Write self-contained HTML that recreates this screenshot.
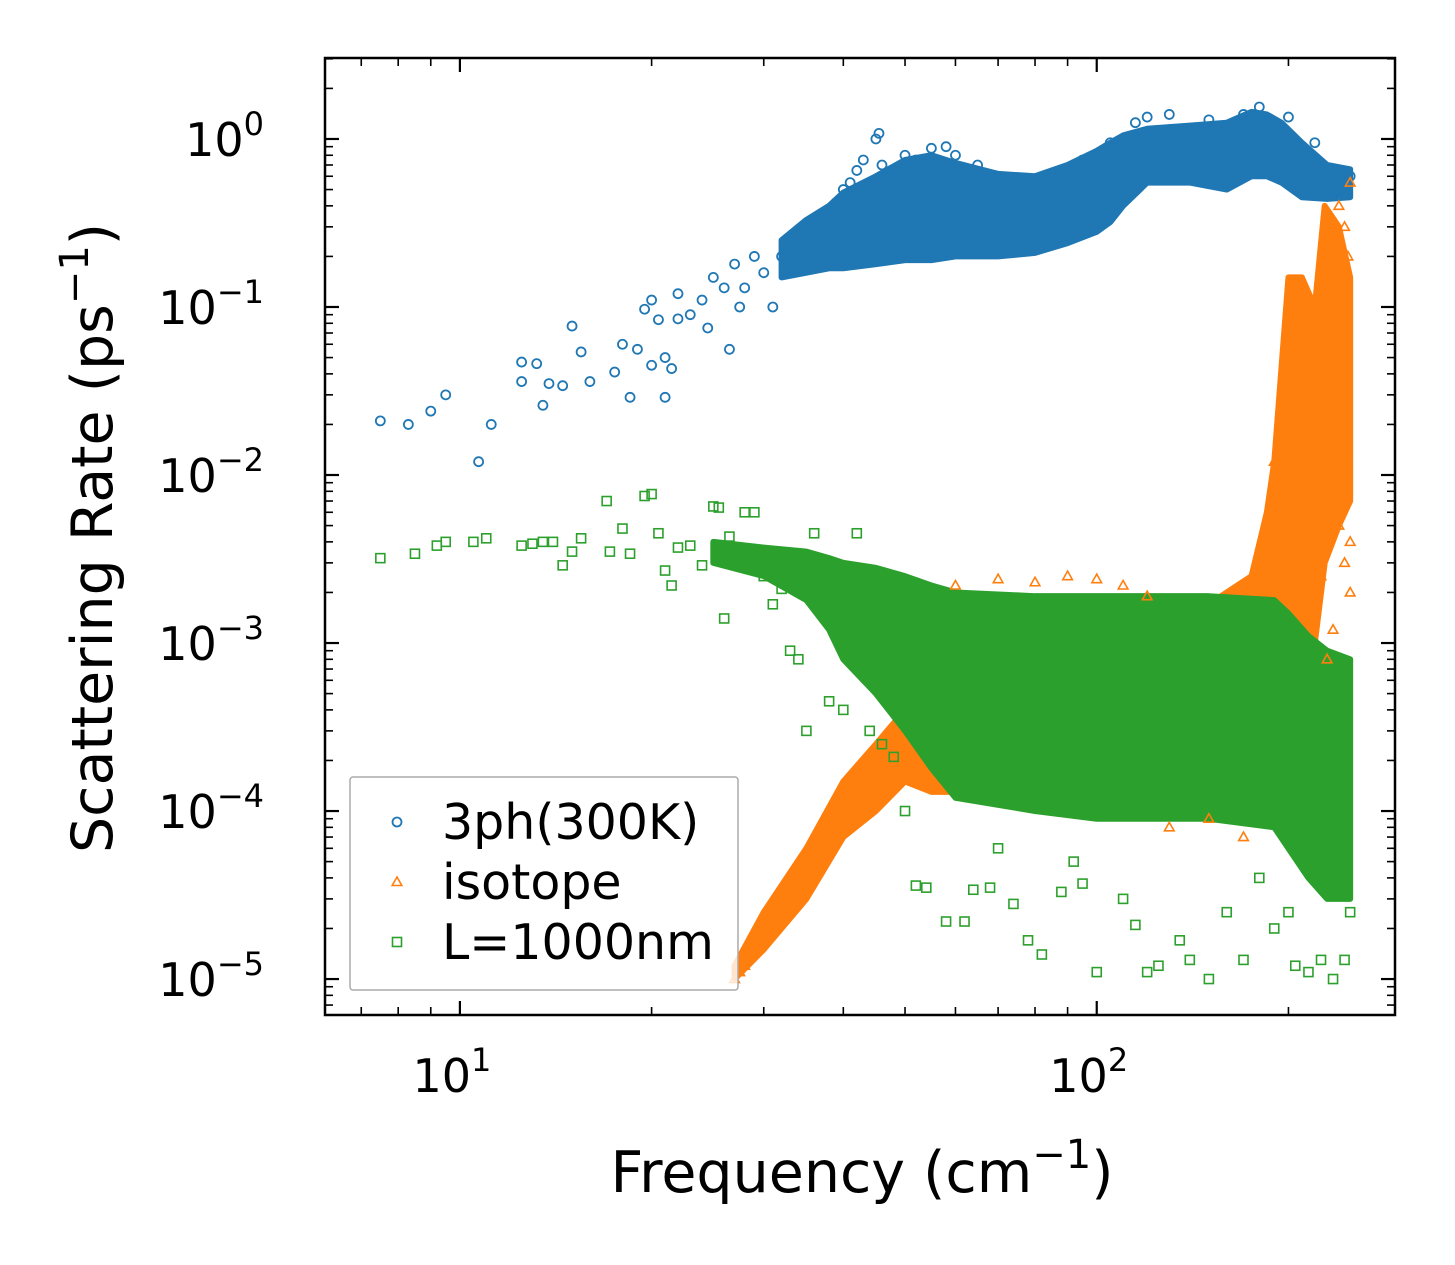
<!DOCTYPE html>
<html><head><meta charset="utf-8">
<style>
html,body{margin:0;padding:0;background:#fff;}
svg{display:block;font-family:"DejaVu Sans","Liberation Sans",sans-serif;}
</style></head>
<body>
<svg id="chart" width="1455" height="1265" viewBox="0 0 1455 1265" xmlns="http://www.w3.org/2000/svg">
<rect width="1455" height="1265" fill="#fff"/>
<defs><clipPath id="plotclip"><rect x="325" y="58" width="1070" height="957"/></clipPath></defs>
<g id="bands" clip-path="url(#plotclip)"></g>
<g id="marks" clip-path="url(#plotclip)"></g>
<g id="axes"></g>
</svg>
<script>
// ---- data (approximate) ----
const blueFreq = [7.5,8.3,9,9.5,10.7,11.2,12.5,12.5,13.2,13.5,13.8,14.5,15,15.5,16,17.5,18,18.5,19,19.5,20,20,20.5,21,21,21.5,22,22,23,24,24.5,25,26,26.5,27,27.5,28,29,30,31,32,33,34,35,36,37,38,39,40,41,42,43,44,45,45.5,46,48,50,52,55,58,60,65,70,80,95,105,115,120,130,150,170,180,200,220,240,250];
const blueRate = [0.021,0.020,0.024,0.030,0.012,0.020,0.047,0.036,0.046,0.026,0.035,0.034,0.077,0.054,0.036,0.041,0.060,0.029,0.056,0.097,0.110,0.045,0.084,0.029,0.050,0.043,0.120,0.085,0.090,0.110,0.075,0.150,0.130,0.056,0.180,0.100,0.130,0.200,0.160,0.100,0.200,0.220,0.170,0.290,0.200,0.350,0.250,0.420,0.500,0.550,0.650,0.750,0.550,1.00,1.08,0.70,0.60,0.80,0.75,0.88,0.90,0.80,0.70,0.60,0.55,0.75,0.95,1.25,1.35,1.40,1.30,1.40,1.55,1.35,0.95,0.62,0.60];
const blueBandFreq = [32,35,38,40,45,50,55,60,70,80,90,100,105,110,120,140,160,175,185,195,210,230,250];
const blueBandLow  = [0.15,0.16,0.17,0.17,0.18,0.19,0.19,0.20,0.20,0.21,0.24,0.28,0.32,0.40,0.55,0.55,0.50,0.60,0.60,0.55,0.45,0.44,0.45];
const blueBandHigh = [0.25,0.33,0.40,0.48,0.60,0.75,0.80,0.72,0.62,0.60,0.70,0.85,0.95,1.05,1.15,1.20,1.25,1.45,1.40,1.25,0.95,0.70,0.66];

const orangeFreq = [27,27.5,28,29,30,32,34,36,38,40,42,44,46,48,60,70,80,90,100,110,120,130,150,170,180,190,195,200,205,210,215,220,225,230,235,240,245,248,250,245,250,245,235,225,230,240,250];
const orangeRate = [0.00001,0.000011,0.000012,0.000015,0.00002,0.00003,0.00004,0.000055,0.00007,0.0001,0.00013,0.00017,0.00022,0.00028,0.0022,0.0024,0.0023,0.0025,0.0024,0.0022,0.0019,0.00008,0.00009,0.00007,0.0025,0.012,0.006,0.02,0.015,0.004,0.03,0.01,0.06,0.03,0.15,0.4,0.3,0.2,0.55,0.01,0.004,0.003,0.0012,0.0025,0.0008,0.005,0.002];
const orangeBandFreq = [27,30,35,40,45,50,55,70,100,150,175,185,190,200,210,220,228,240,250];
const orangeBandLow  = [0.00001,0.000015,0.00003,0.00007,0.0001,0.00015,0.00013,0.00013,0.00013,0.00012,0.0004,0.0006,0.001,0.001,0.001,0.001,0.003,0.005,0.007];
const orangeBandHigh = [0.000012,0.000025,0.00006,0.00015,0.00025,0.0004,0.001,0.0018,0.0018,0.0017,0.0025,0.006,0.012,0.15,0.15,0.1,0.4,0.3,0.15];

const greenFreq = [7.5,8.5,9.2,9.5,10.5,11,12.5,13,13.5,14,14.5,15,15.5,17,17.2,18,18.5,19.5,20,20.5,21,21.5,22,23,24,25,25.5,26,26.5,28,29,30,31,32,33,34,35,36,38,40,42,44,46,48,50,52,54,56,58,62,64,68,70,74,78,82,88,92,95,100,110,115,120,125,135,140,150,160,170,180,190,200,205,215,225,235,245,240,250];
const greenRate = [0.0032,0.0034,0.0038,0.0040,0.0040,0.0042,0.0038,0.0039,0.0040,0.0040,0.0029,0.0035,0.0042,0.0070,0.0035,0.0048,0.0034,0.0075,0.0077,0.0045,0.0027,0.0022,0.0037,0.0038,0.0029,0.0065,0.0064,0.0014,0.0043,0.0060,0.0060,0.0025,0.0017,0.0021,0.0009,0.0008,0.0003,0.0045,0.00045,0.0004,0.0045,0.0003,0.00025,0.00021,0.0001,0.000036,0.000035,0.0004,0.000022,0.000022,0.000034,0.000035,0.00006,0.000028,0.000017,0.000014,0.000033,0.00005,0.000037,0.000011,0.00003,0.000021,0.000011,0.000012,0.000017,0.000013,0.00001,0.000025,0.000013,0.00004,0.00002,0.000025,0.000012,0.000011,0.000013,0.00001,0.000013,0.000035,0.000025];
const greenBandFreq = [25,30,35,38,40,45,50,55,60,80,100,150,190,200,215,230,250];
const greenBandLow  = [0.003,0.0025,0.0018,0.0012,0.0008,0.0005,0.0003,0.00018,0.00012,0.0001,0.00009,0.00009,0.00008,0.00006,0.00004,0.00003,0.00003];
const greenBandHigh = [0.004,0.0037,0.0035,0.0032,0.003,0.0028,0.0025,0.0022,0.002,0.0019,0.0019,0.0019,0.0018,0.0015,0.0011,0.0009,0.0008];

const xTickVals = [10,100];
const xTickExp = ["1","2"];
const yTickExp = [0,-1,-2,-3,-4,-5];

// ---- axes functions ----
const X0=325,X1=1395,Y0=58,Y1=1015;
const xLogMin=Math.log10(6.14), xLogMax=Math.log10(294);
const yLogMax=0.482, yLogMin=-5.214;
const xs=v=>X0+(Math.log10(v)-xLogMin)/(xLogMax-xLogMin)*(X1-X0);
const ys=v=>Y0+(yLogMax-Math.log10(v))/(yLogMax-yLogMin)*(Y1-Y0);
const NS="http://www.w3.org/2000/svg";
function mk(tag,attrs,parent){const e=document.createElementNS(NS,tag);for(const k in attrs)e.setAttribute(k,attrs[k]);parent.appendChild(e);return e;}
const bands=document.getElementById('bands'), marks=document.getElementById('marks'), axes=document.getElementById('axes');

function band(fr,lo,hi,color,name){
  let pts=fr.map((f,i)=>xs(f)+','+ys(hi[i]));
  for(let i=fr.length-1;i>=0;i--)pts.push(xs(fr[i])+','+ys(lo[i]));
  const p=mk('polygon',{points:pts.join(' '),fill:color,stroke:color,'stroke-width':6,'stroke-linejoin':'round'},bands);
  
  
}
function marker(kind,x,y,color,parent){
  let e;
  if(kind==='o') e=mk('circle',{cx:x,cy:y,r:4.5,fill:'none',stroke:color,'stroke-width':1.8},parent);
  else if(kind==='^') e=mk('polygon',{points:`${x},${y-5} ${x-4.8},${y+3.5} ${x+4.8},${y+3.5}`,fill:'none',stroke:color,'stroke-width':1.6},parent);
  else e=mk('rect',{x:x-4.5,y:y-4.5,width:9,height:9,fill:'none',stroke:color,'stroke-width':1.6},parent);
  return e;
}
function series(fr,rt,kind,color,name){
  fr.forEach((f,i)=>{
    const e=marker(kind,xs(f),ys(rt[i]),color,marks);
    
    
  });
}
const BLUE='#1f77b4',ORANGE='#ff7f0e',GREEN='#2ca02c';
band(blueBandFreq,blueBandLow,blueBandHigh,BLUE,'3ph-dense-band');
series(blueFreq,blueRate,'o',BLUE,'3ph-point');
band(orangeBandFreq,orangeBandLow,orangeBandHigh,ORANGE,'isotope-dense-band');
series(orangeFreq,orangeRate,'^',ORANGE,'isotope-point');
band(greenBandFreq,greenBandLow,greenBandHigh,GREEN,'boundary-dense-band');
series(greenFreq,greenRate,'s',GREEN,'boundary-point');

// frame
const fr=mk('rect',{x:X0,y:Y0,width:X1-X0,height:Y1-Y0,fill:'none',stroke:'#000','stroke-width':2.5},axes);


// x ticks
for(let d=1;d<=300;d*=10){for(let m=1;m<10;m++){const v=m*d; if(v<6.14||v>294)continue; const x=xs(v); const L=m===1?14:8;
  mk('line',{x1:x,y1:Y1,x2:x,y2:Y1-L,stroke:'#000','stroke-width':m===1?2.2:1.6},axes);
  mk('line',{x1:x,y1:Y0,x2:x,y2:Y0+L,stroke:'#000','stroke-width':m===1?2.2:1.6},axes);}}
xTickVals.forEach((v,i)=>{const t=mk('text',{x:xs(v)-8,y:1092,'font-size':46,'text-anchor':'middle'},axes);
  
  
  t.innerHTML='10<tspan dy="-21" font-size="32">'+xTickExp[i]+'</tspan>';});
// y ticks
for(let e=-6;e<=0;e++){for(let m=1;m<10;m++){const v=m*Math.pow(10,e); const lv=Math.log10(v); if(lv<yLogMin||lv>yLogMax)continue; const y=ys(v); const L=m===1?14:8;
  mk('line',{x1:X0,y1:y,x2:X0+L,y2:y,stroke:'#000','stroke-width':m===1?2.2:1.6},axes);
  mk('line',{x1:X1,y1:y,x2:X1-L,y2:y,stroke:'#000','stroke-width':m===1?2.2:1.6},axes);}}
yTickExp.forEach(e=>{const t=mk('text',{x:264,y:ys(Math.pow(10,e))+17,'font-size':46,'text-anchor':'end'},axes);
  
  
  t.innerHTML='10<tspan dy="-21" font-size="32">'+(e<0?'\u2212'+(-e):e)+'</tspan>';});
// axis titles
const xt=mk('text',{x:862,y:1192,'font-size':57,'text-anchor':'middle'},axes);


xt.innerHTML='Frequency (cm<tspan dy="-24" font-size="40">\u22121</tspan><tspan dy="24">)</tspan>';
const yt=mk('text',{x:0,y:0,'font-size':57,'text-anchor':'middle',transform:'translate(112,538) rotate(-90)'},axes);


yt.innerHTML='Scattering Rate (ps<tspan dy="-24" font-size="40">\u22121</tspan><tspan dy="24">)</tspan>';
// legend
const lg=mk('g',{},axes);


mk('rect',{x:350,y:777,width:388,height:213,fill:'#fff','fill-opacity':0.8,stroke:'#aaa','stroke-width':1.5,rx:3},lg);
[['o',BLUE,'3ph(300K)'],['^',ORANGE,'isotope'],['s',GREEN,'L=1000nm']].forEach((d,i)=>{
  const g=mk('g',{},lg);
  
  
  const y=822+i*60;
  marker(d[0],397,y,d[1],g);
  const t=mk('text',{x:442,y:y+17,'font-size':49},g);
  t.textContent=d[2];
});
</script>
</body></html>
